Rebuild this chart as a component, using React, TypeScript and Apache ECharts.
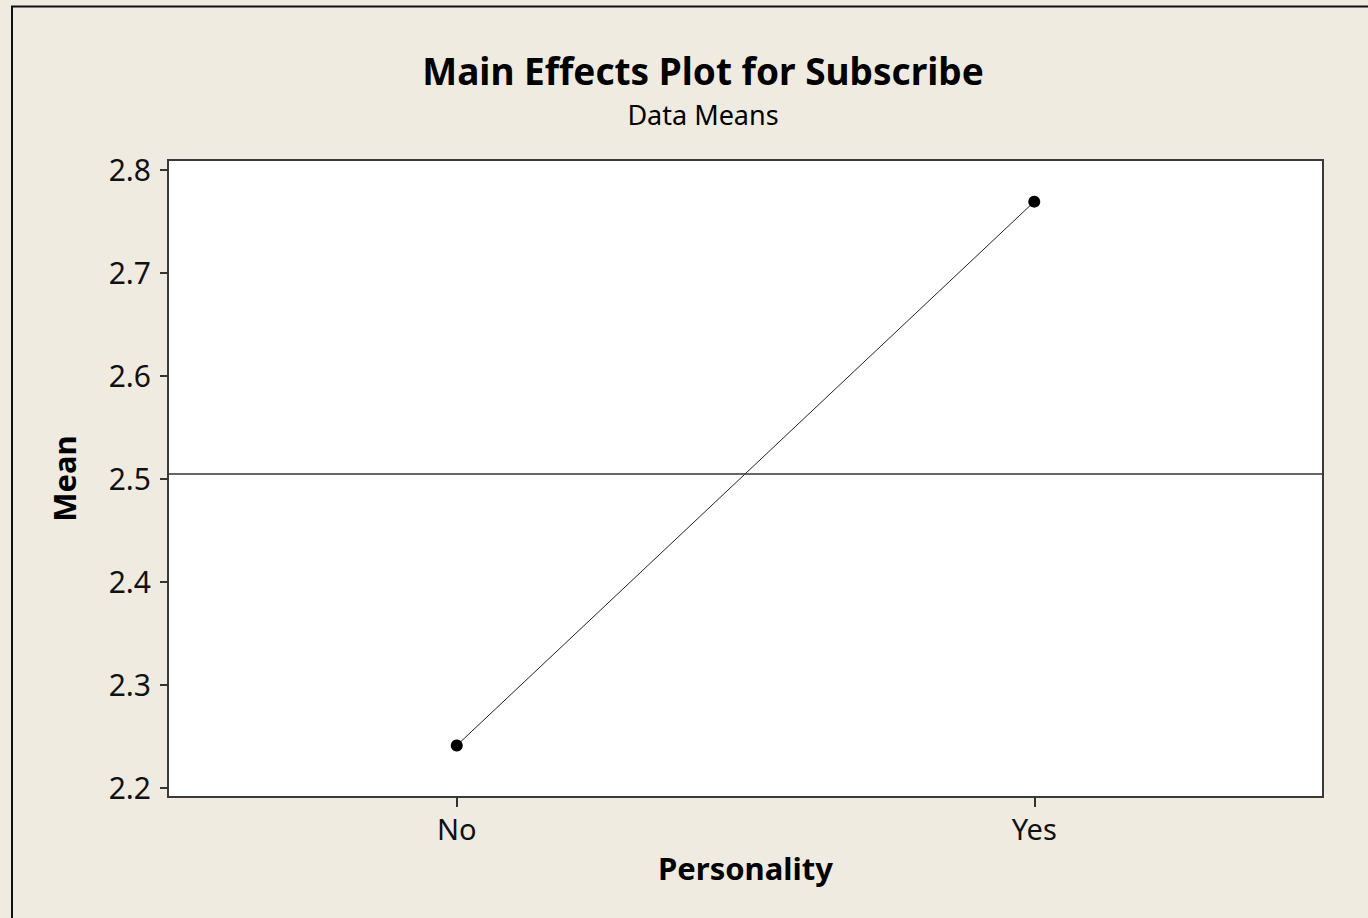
import React, { useEffect, useRef } from "react";
import * as echarts from "echarts";

const categories = ["No", "Yes"];
const meanValues = [2.2408, 2.7692];
const overallMean = [2.505];
const yTickValues = [2.2, 2.3, 2.4, 2.5, 2.6, 2.7, 2.8];
const titleText = "Main Effects Plot for Subscribe";
const subtitleText = "Data Means";
const xName = "Personality";
const yName = "Mean";

const FONT = "Noto Sans";

export default function App() {
  const ref = useRef<HTMLDivElement>(null);
  useEffect(() => {
    document.body.style.margin = "0";
    const chart = echarts.init(ref.current!, null, { renderer: "svg" });
    chart.setOption({
      animation: false,
      backgroundColor: "#EFEBE1",
      graphic: [
        {
          type: "rect",
          shape: { x: 12, y: 6.5, width: 1500, height: 1000 },
          style: { fill: "none", stroke: "#111", lineWidth: 2 },
          silent: true,
          z: -1,
        },
      ],
      title: {
        text: titleText,
        subtext: subtitleText,
        left: 698,
        top: 47,
        textAlign: "center",
        itemGap: 12,
        textStyle: { fontFamily: FONT, fontWeight: "bold", fontSize: 37, color: "#000" },
        subtextStyle: { fontFamily: FONT, fontSize: 27, color: "#000" },
      },
      grid: {
        left: 168,
        top: 160,
        right: 45,
        bottom: 121,
        show: true,
        backgroundColor: "#fff",
        borderColor: "#3a3a3a",
        borderWidth: 2,
      },
      xAxis: {
        type: "category",
        data: categories,
        boundaryGap: true,
        name: xName,
        nameLocation: "middle",
        nameGap: 55,
        nameTextStyle: { fontFamily: FONT, fontWeight: "bold", fontSize: 31, color: "#000" },
        axisLine: { show: false },
        axisTick: { show: true, alignWithLabel: true, length: 10, lineStyle: { color: "#333", width: 2 } },
        axisLabel: { fontFamily: FONT, fontSize: 29, color: "#111", margin: 17 },
        splitLine: { show: false },
      },
      yAxis: {
        type: "value",
        min: 2.1907,
        max: 2.8097,
        name: yName,
        nameLocation: "middle",
        nameGap: 89,
        nameTextStyle: { fontFamily: FONT, fontWeight: "bold", fontSize: 31, color: "#000" },
        axisLine: { show: false },
        axisTick: { show: true, length: 8, customValues: yTickValues, lineStyle: { color: "#333", width: 2 } },
        axisLabel: {
          fontFamily: FONT,
          fontSize: 30,
          color: "#111",
          margin: 17,
          customValues: yTickValues,
          formatter: (v: number) => v.toFixed(1),
        },
        splitLine: { show: false },
      },
      series: [
        {
          type: "line",
          data: meanValues,
          symbol: "circle",
          symbolSize: 12,
          itemStyle: { color: "#000" },
          lineStyle: { color: "#222", width: 1 },
          markLine: {
            silent: true,
            symbol: "none",
            precision: 4,
            label: { show: false },
            lineStyle: { color: "#333", width: 1.5, type: "solid" },
            data: [{ yAxis: overallMean[0] }],
          },
        },
      ],
    });
    return () => chart.dispose();
  }, []);
  return <div ref={ref} style={{ width: 1368, height: 918 }} />;
}
